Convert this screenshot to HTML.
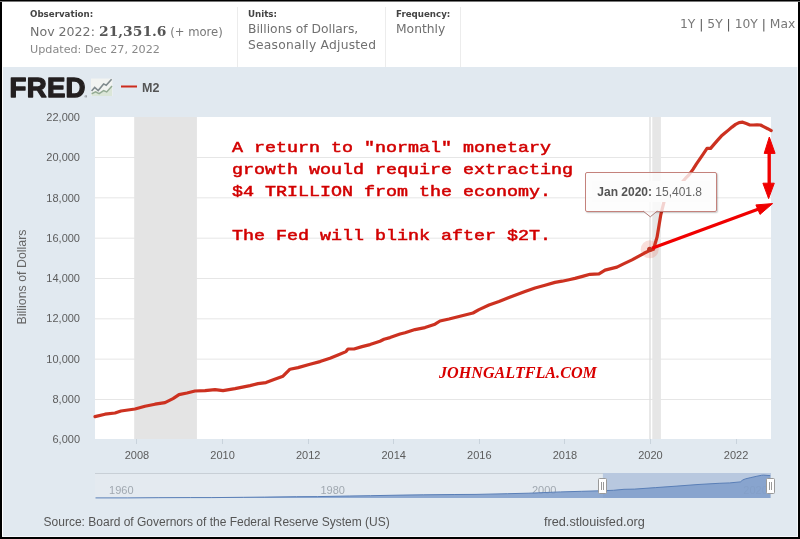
<!DOCTYPE html>
<html><head><meta charset="utf-8"><title>FRED M2</title>
<style>
*{margin:0;padding:0;box-sizing:border-box}
html,body{width:800px;height:539px;overflow:hidden;background:#000}
#frame{position:absolute;left:2px;top:1px;width:796px;height:536px;background:#e1e9f0;overflow:hidden}
#hdr{position:absolute;left:0;top:0;width:796px;height:66px;background:#fff}
.sep{position:absolute;top:6px;width:1px;height:60px;background:#ececec}
.lbl{position:absolute;font:bold 8.7px "DejaVu Sans",sans-serif;color:#444;white-space:nowrap}
.val{position:absolute;font:12.3px "DejaVu Sans",sans-serif;color:#707070;white-space:nowrap}
svg{position:absolute;left:0;top:0}
.ann{position:absolute;left:232px;font:15px "Liberation Mono",monospace;color:#d20000;-webkit-text-stroke:0.5px #d20000;white-space:pre;transform:scaleX(1.222);transform-origin:0 0}
</style></head><body>
<div id="frame">
 <div id="hdr">
  <div class="lbl" style="left:28px;top:8px">Observation:</div>
  <div class="val" style="left:28px;top:23px;font-size:12.6px">Nov 2022: <b style="display:inline-block;font:bold 12.6px 'DejaVu Serif',serif;color:#555;transform:scaleX(1.1);transform-origin:0 0;margin-right:6px">21,351.6</b> <span style="font-size:11.6px;color:#777">(+ more)</span></div>
  <div class="val" style="left:28px;top:42px;font-size:11.2px;color:#888">Updated: Dec 27, 2022</div>
  <div class="sep" style="left:235px"></div>
  <div class="lbl" style="left:246px;top:8px">Units:</div>
  <div class="val" style="left:246px;top:21px">Billions of Dollars,</div>
  <div class="val" style="left:246px;top:37px;letter-spacing:0.22px">Seasonally Adjusted</div>
  <div class="sep" style="left:383px"></div>
  <div class="lbl" style="left:394px;top:8px">Frequency:</div>
  <div class="val" style="left:394px;top:21px">Monthly</div>
  <div class="sep" style="left:458px"></div>
  <div class="val" style="left:678px;top:15.6px;color:#777">1Y <span style="color:#555">|</span> 5Y <span style="color:#555">|</span> 10Y <span style="color:#555">|</span> Max</div>
 </div>
</div>
<svg width="800" height="539" viewBox="0 0 800 539">
 <!-- plot area -->
 <rect x="95" y="117" width="676" height="322" fill="#fff"/>
 <g stroke="#e6e6e6" stroke-width="1"><line x1="95" x2="771" y1="157.50" y2="157.50"/><line x1="95" x2="771" y1="197.83" y2="197.83"/><line x1="95" x2="771" y1="238.16" y2="238.16"/><line x1="95" x2="771" y1="278.49" y2="278.49"/><line x1="95" x2="771" y1="318.82" y2="318.82"/><line x1="95" x2="771" y1="359.15" y2="359.15"/><line x1="95" x2="771" y1="399.48" y2="399.48"/></g>
 <rect x="134.2" y="117" width="62.7" height="322" fill="#e4e4e4"/>
 <rect x="652.3" y="117" width="8.6" height="322" fill="#e6e6e6"/>
 <rect x="649.3" y="117" width="1.4" height="322" fill="#dedede"/>
 <g stroke="#c9d3dc" stroke-width="1"><line x1="136.5" x2="136.5" y1="439" y2="444"/><line x1="222.5" x2="222.5" y1="439" y2="444"/><line x1="308.5" x2="308.5" y1="439" y2="444"/><line x1="393.5" x2="393.5" y1="439" y2="444"/><line x1="479.5" x2="479.5" y1="439" y2="444"/><line x1="564.5" x2="564.5" y1="439" y2="444"/><line x1="650.5" x2="650.5" y1="439" y2="444"/><line x1="736.5" x2="736.5" y1="439" y2="444"/></g>
 <g font-family="Liberation Sans, sans-serif" font-size="11" fill="#5c5c5c" text-anchor="end"><text x="80" y="443.0">6,000</text><text x="80" y="402.8">8,000</text><text x="80" y="362.5">10,000</text><text x="80" y="322.2">12,000</text><text x="80" y="282.0">14,000</text><text x="80" y="241.8">16,000</text><text x="80" y="201.5">18,000</text><text x="80" y="161.2">20,000</text><text x="80" y="121.0">22,000</text></g>
 <g font-family="Liberation Sans, sans-serif" font-size="11" fill="#5c5c5c" text-anchor="middle"><text x="137.0" y="459.3">2008</text><text x="222.6" y="459.3">2010</text><text x="308.2" y="459.3">2012</text><text x="393.7" y="459.3">2014</text><text x="479.3" y="459.3">2016</text><text x="564.9" y="459.3">2018</text><text x="650.5" y="459.3">2020</text><text x="736.1" y="459.3">2022</text></g>
 <text transform="translate(25.5 277) rotate(-90)" text-anchor="middle" font-family="Liberation Sans, sans-serif" font-size="12.4" fill="#666">Billions of Dollars</text>
 <!-- series -->
 <path transform="translate(0 0.6)" d="M95.0 416.0 L105.0 413.6 L115.0 412.4 L121.0 410.4 L135.0 408.4 L145.0 405.6 L155.0 403.6 L165.0 402.0 L173.0 398.0 L179.0 394.0 L187.0 392.4 L195.0 390.4 L205.0 390.0 L215.0 389.0 L223.0 390.0 L235.0 388.0 L245.0 386.0 L250.0 385.0 L258.0 383.0 L266.0 382.0 L274.0 379.0 L283.0 375.6 L290.0 368.6 L298.0 367.0 L310.0 363.6 L320.0 361.0 L330.0 357.6 L338.0 354.4 L346.0 351.0 L348.0 348.4 L354.0 348.4 L362.0 346.0 L370.0 344.0 L380.0 340.6 L384.0 338.6 L390.0 337.0 L400.0 333.4 L405.0 332.2 L415.0 329.0 L425.0 327.0 L435.0 323.6 L440.0 320.4 L449.0 318.4 L457.0 316.4 L465.0 314.4 L473.0 312.4 L479.0 309.0 L489.0 304.4 L499.0 301.0 L509.0 297.0 L517.0 294.0 L525.0 291.0 L535.0 287.4 L545.0 284.6 L555.0 281.8 L562.0 280.6 L569.0 279.1 L575.0 277.8 L582.5 275.8 L590.0 273.7 L599.0 273.2 L605.0 269.5 L617.0 266.5 L623.0 263.5 L632.0 259.3 L638.0 256.0 L644.0 252.7 L650.0 249.8 L653.5 248.6 L657.1 236.4 L660.7 214.6 L664.2 200.4 L667.8 194.3 L671.4 191.5 L674.9 189.2 L678.5 184.5 L682.1 181.6 L685.6 177.6 L689.2 174.1 L692.8 169.0 L696.3 163.5 L699.9 158.3 L703.5 153.0 L707.0 147.8 L710.6 147.8 L714.2 143.5 L717.7 139.5 L721.3 135.5 L724.9 132.5 L728.4 129.5 L732.0 126.5 L735.6 123.8 L739.1 122.0 L742.7 121.6 L746.3 123.0 L749.8 124.4 L753.4 124.4 L757.0 124.2 L760.5 124.4 L764.1 126.3 L767.7 128.1 L771.2 130.0" fill="none" stroke="#cc3120" stroke-width="3.2" stroke-linejoin="round" stroke-linecap="round"/>
 <!-- navigator -->
 <rect x="95" y="473" width="676" height="25" fill="#e4eaf0"/>
 <line x1="95" x2="771" y1="473.5" y2="473.5" stroke="#c8cfd6"/>
 <rect x="602.9" y="473" width="168.1" height="25" fill="#b8c8df"/>
 <g font-family="Liberation Sans, sans-serif" font-size="11" fill="#a0a8b0"><text x="109.1" y="494.1">1960</text><text x="320.5" y="494.1">1980</text><text x="531.9" y="494.1">2000</text><text x="743.3" y="494.1">2020</text></g>
 <path d="M95.5 497.9 L127.2 497.9 L158.9 497.7 L190.6 497.6 L211.8 497.6 L243.5 497.3 L264.6 497.1 L296.3 496.7 L317.5 496.6 L349.2 496.0 L370.3 495.7 L402.0 495.1 L423.2 494.8 L454.9 494.5 L476.0 494.4 L507.7 493.7 L528.9 493.2 L560.6 491.9 L581.7 491.3 L602.9 490.7 L613.4 490.3 L624.0 489.3 L634.6 489.1 L655.7 487.6 L676.9 486.1 L698.0 484.5 L719.1 483.3 L729.7 482.9 L740.3 481.9 L742.9 479.9 L745.6 478.8 L750.8 477.6 L756.1 476.4 L761.4 475.3 L763.5 475.1 L770.2 475.6 L770.2 498 L95.5 498 Z" fill="#7f9dcb" fill-opacity="0.85"/>
 <path d="M95.5 497.9 L127.2 497.9 L158.9 497.7 L190.6 497.6 L211.8 497.6 L243.5 497.3 L264.6 497.1 L296.3 496.7 L317.5 496.6 L349.2 496.0 L370.3 495.7 L402.0 495.1 L423.2 494.8 L454.9 494.5 L476.0 494.4 L507.7 493.7 L528.9 493.2 L560.6 491.9 L581.7 491.3 L602.9 490.7 L613.4 490.3 L624.0 489.3 L634.6 489.1 L655.7 487.6 L676.9 486.1 L698.0 484.5 L719.1 483.3 L729.7 482.9 L740.3 481.9 L742.9 479.9 L745.6 478.8 L750.8 477.6 L756.1 476.4 L761.4 475.3 L763.5 475.1 L770.2 475.6" fill="none" stroke="#5a7fb7" stroke-width="1"/>
 <g stroke="#999" fill="#fff">
  <rect x="598.5" y="478.5" width="8" height="15" rx="1"/>
  <rect x="766.5" y="478.5" width="8" height="15" rx="1"/>
  <line x1="601.5" x2="601.5" y1="482" y2="490"/><line x1="603.5" x2="603.5" y1="482" y2="490"/>
  <line x1="769.5" x2="769.5" y1="482" y2="490"/><line x1="771.5" x2="771.5" y1="482" y2="490"/>
 </g>
 <!-- footer -->
 <text x="43.6" y="526.3" font-family="Liberation Sans, sans-serif" font-size="12" fill="#555">Source: Board of Governors of the Federal Reserve System (US)</text>
 <text x="544" y="526.1" font-family="Liberation Sans, sans-serif" font-size="12.7" fill="#555">fred.stlouisfed.org</text>
 <!-- logo -->
 <text x="9.5" y="97" font-family="Liberation Sans, sans-serif" font-weight="bold" font-size="27.6" fill="#231f20" stroke="#231f20" stroke-width="1.3" stroke-linejoin="round" letter-spacing="0.3">FRED</text><text x="84.5" y="97.5" font-family="Liberation Sans, sans-serif" font-size="3.5" fill="#231f20">®</text>
 <g>
  <rect x="91" y="78.5" width="21.5" height="17.5" fill="#f2f4f2"/>
  <path d="M91.6 93.7 L95.6 91.9 L99.1 93.7 L103.6 90.6 L106.7 91.9 L112 86.1 L112 96 L91.6 96 Z" fill="#dbe6d8"/>
  <path d="M91.6 93.7 L95.6 91.9 L99.1 93.7 L103.6 90.6 L106.7 91.9 L112 86.1" fill="none" stroke="#94ab94" stroke-width="1.5"/>
  <path d="M91.6 91 L94.7 87.5 L98.2 90.6 L103.6 83.9 L106.2 85.2 L111.6 79.2" fill="none" stroke="#808b8e" stroke-width="1.6"/>
 </g>
 <line x1="121" x2="137" y1="86.5" y2="86.5" stroke="#cc2b1d" stroke-width="2"/>
 <text x="142" y="92.3" font-family="Liberation Sans, sans-serif" font-weight="bold" font-size="12.5" fill="#555">M2</text>
 <!-- marker -->
 <circle cx="649.7" cy="249.3" r="9" fill="#e0402a" fill-opacity="0.17"/>
 <circle cx="649.7" cy="249.3" r="2.6" fill="#c03222"/>
 <!-- annotation arrows -->
 <g fill="#f00000" stroke="#f00000">
  <line x1="652" y1="248.3" x2="760" y2="208.5" stroke-width="3.2"/>
  <path d="M772.6 203.6 L755.9 204.9 L760 214.4 Z" stroke-width="1"/>
  <line x1="769.2" y1="150" x2="769.2" y2="186" stroke-width="3.4"/>
  <path d="M769.3 137 L764.2 153.4 L775.1 153.4 Z" stroke-width="1"/>
  <path d="M768.6 198.6 L762.9 183.2 L774.3 183.2 Z" stroke-width="1"/>
 </g>
</svg>
<!-- tooltip -->
<div style="position:absolute;left:585px;top:172px;width:131.5px;height:39.5px;border:1px solid #c4827c;border-radius:2px;background:rgba(252,252,252,0.8);box-shadow:1px 1px 1.5px rgba(0,0,0,0.22)"></div>
<div style="position:absolute;left:592px;top:180.5px;width:118px;height:21.5px;background:#fcfcfc"></div>
<svg width="800" height="539" style="position:absolute;left:0;top:0">
 <path d="M643 211 L650.3 216.8 L657.3 211" fill="rgba(252,252,252,0.8)" stroke="#b07c78" stroke-width="1"/>
 <text x="597.3" y="195.8" font-family="Liberation Sans, sans-serif" font-size="12" fill="#666"><tspan font-weight="bold" fill="#555">Jan 2020:</tspan> 15,401.8</text>
</svg>
<div class="ann" style="top:137.7px;line-height:22px;width:400px">A return to "normal" monetary
growth would require extracting
$4 TRILLION from the economy.

The Fed will blink after $2T.</div>
<div style="position:absolute;left:438.5px;top:363.4px;font:italic bold 16.9px 'Liberation Serif',serif;color:#d80000;white-space:nowrap;transform:scaleX(0.955);transform-origin:0 0">JOHNGALTFLA.COM</div>
<!-- frame edges -->
<div style="position:absolute;left:2px;top:1px;width:1px;height:536px;background:#fff"></div>
<div style="position:absolute;left:797px;top:67px;width:1px;height:470px;background:#f4f7fa"></div>
<div style="position:absolute;left:2px;top:536px;width:796px;height:1px;background:#f4f7fa"></div>
<div style="position:absolute;left:0;top:0;width:800px;height:1px;background:#000"></div>
<div style="position:absolute;left:0;top:1px;width:800px;height:1px;background:#777"></div>
</body></html>
